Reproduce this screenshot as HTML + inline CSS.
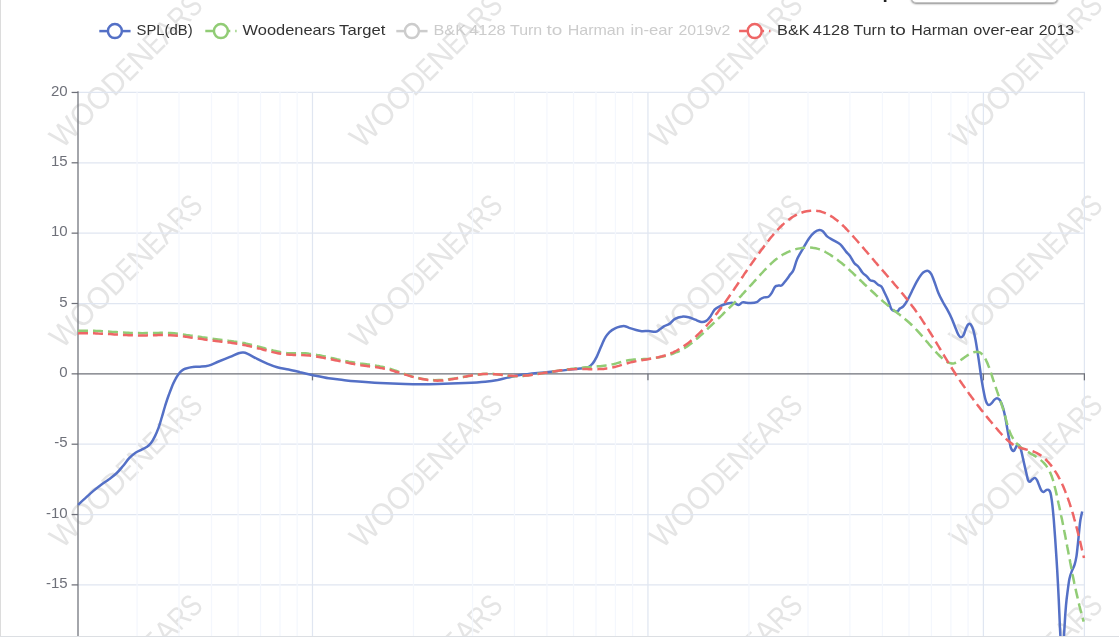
<!DOCTYPE html>
<html lang="en">
<head>
<meta charset="utf-8">
<title>Frequency response</title>
<style>
html,body{margin:0;padding:0;background:#fff}
body{width:1119px;height:642px;overflow:hidden;position:relative;font-family:"Liberation Sans",sans-serif}
.panel{position:absolute;left:0;top:0;width:1119px;height:637px;overflow:hidden;background:#fff}
.bl{position:absolute;left:0;top:0;width:1px;height:637px;background:#dcdcdc}
.bb{position:absolute;left:0;top:635.6px;width:1119px;height:1.3px;background:#dcdfe3}
svg{position:absolute;left:0;top:0;font-family:"Liberation Sans",sans-serif}
.sel{position:absolute;left:911px;top:-24.8px;width:144.5px;height:25.5px;border:1px solid #c4c4c4;border-radius:5px;background:#fff;box-shadow:0 1px 2px rgba(0,0,0,.45)}
.lab{position:absolute;left:840.4px;top:-17.9px;font-size:19px;line-height:20px;color:#222;font-weight:bold;white-space:nowrap}
</style>
</head>
<body>
<div class="panel">
<div class="lab">Comp</div>
<div class="sel"></div>
<svg class="wm" width="1119" height="636" viewBox="0 0 1119 636"><g font-size="31" fill="#e5e5e5">
<text transform="translate(-237.8 -50.5) rotate(-45)"><tspan x="0.0" textLength="28.1" lengthAdjust="spacingAndGlyphs">W</tspan><tspan x="28.1" textLength="22.7" lengthAdjust="spacingAndGlyphs">O</tspan><tspan x="50.8" textLength="22.7" lengthAdjust="spacingAndGlyphs">O</tspan><tspan x="73.5" textLength="21.1" lengthAdjust="spacingAndGlyphs">D</tspan><tspan x="94.6" textLength="15.2" lengthAdjust="spacingAndGlyphs">E</tspan><tspan x="109.8" textLength="22.5" lengthAdjust="spacingAndGlyphs">N</tspan><tspan x="132.3" textLength="15.2" lengthAdjust="spacingAndGlyphs">E</tspan><tspan x="147.6" textLength="19.4" lengthAdjust="spacingAndGlyphs">A</tspan><tspan x="167.0" textLength="18.0" lengthAdjust="spacingAndGlyphs">R</tspan><tspan x="185.0" textLength="16.0" lengthAdjust="spacingAndGlyphs">S</tspan></text>
<text transform="translate(-237.8 149.5) rotate(-45)"><tspan x="0.0" textLength="28.1" lengthAdjust="spacingAndGlyphs">W</tspan><tspan x="28.1" textLength="22.7" lengthAdjust="spacingAndGlyphs">O</tspan><tspan x="50.8" textLength="22.7" lengthAdjust="spacingAndGlyphs">O</tspan><tspan x="73.5" textLength="21.1" lengthAdjust="spacingAndGlyphs">D</tspan><tspan x="94.6" textLength="15.2" lengthAdjust="spacingAndGlyphs">E</tspan><tspan x="109.8" textLength="22.5" lengthAdjust="spacingAndGlyphs">N</tspan><tspan x="132.3" textLength="15.2" lengthAdjust="spacingAndGlyphs">E</tspan><tspan x="147.6" textLength="19.4" lengthAdjust="spacingAndGlyphs">A</tspan><tspan x="167.0" textLength="18.0" lengthAdjust="spacingAndGlyphs">R</tspan><tspan x="185.0" textLength="16.0" lengthAdjust="spacingAndGlyphs">S</tspan></text>
<text transform="translate(-237.8 349.5) rotate(-45)"><tspan x="0.0" textLength="28.1" lengthAdjust="spacingAndGlyphs">W</tspan><tspan x="28.1" textLength="22.7" lengthAdjust="spacingAndGlyphs">O</tspan><tspan x="50.8" textLength="22.7" lengthAdjust="spacingAndGlyphs">O</tspan><tspan x="73.5" textLength="21.1" lengthAdjust="spacingAndGlyphs">D</tspan><tspan x="94.6" textLength="15.2" lengthAdjust="spacingAndGlyphs">E</tspan><tspan x="109.8" textLength="22.5" lengthAdjust="spacingAndGlyphs">N</tspan><tspan x="132.3" textLength="15.2" lengthAdjust="spacingAndGlyphs">E</tspan><tspan x="147.6" textLength="19.4" lengthAdjust="spacingAndGlyphs">A</tspan><tspan x="167.0" textLength="18.0" lengthAdjust="spacingAndGlyphs">R</tspan><tspan x="185.0" textLength="16.0" lengthAdjust="spacingAndGlyphs">S</tspan></text>
<text transform="translate(-237.8 549.5) rotate(-45)"><tspan x="0.0" textLength="28.1" lengthAdjust="spacingAndGlyphs">W</tspan><tspan x="28.1" textLength="22.7" lengthAdjust="spacingAndGlyphs">O</tspan><tspan x="50.8" textLength="22.7" lengthAdjust="spacingAndGlyphs">O</tspan><tspan x="73.5" textLength="21.1" lengthAdjust="spacingAndGlyphs">D</tspan><tspan x="94.6" textLength="15.2" lengthAdjust="spacingAndGlyphs">E</tspan><tspan x="109.8" textLength="22.5" lengthAdjust="spacingAndGlyphs">N</tspan><tspan x="132.3" textLength="15.2" lengthAdjust="spacingAndGlyphs">E</tspan><tspan x="147.6" textLength="19.4" lengthAdjust="spacingAndGlyphs">A</tspan><tspan x="167.0" textLength="18.0" lengthAdjust="spacingAndGlyphs">R</tspan><tspan x="185.0" textLength="16.0" lengthAdjust="spacingAndGlyphs">S</tspan></text>
<text transform="translate(-237.8 749.5) rotate(-45)"><tspan x="0.0" textLength="28.1" lengthAdjust="spacingAndGlyphs">W</tspan><tspan x="28.1" textLength="22.7" lengthAdjust="spacingAndGlyphs">O</tspan><tspan x="50.8" textLength="22.7" lengthAdjust="spacingAndGlyphs">O</tspan><tspan x="73.5" textLength="21.1" lengthAdjust="spacingAndGlyphs">D</tspan><tspan x="94.6" textLength="15.2" lengthAdjust="spacingAndGlyphs">E</tspan><tspan x="109.8" textLength="22.5" lengthAdjust="spacingAndGlyphs">N</tspan><tspan x="132.3" textLength="15.2" lengthAdjust="spacingAndGlyphs">E</tspan><tspan x="147.6" textLength="19.4" lengthAdjust="spacingAndGlyphs">A</tspan><tspan x="167.0" textLength="18.0" lengthAdjust="spacingAndGlyphs">R</tspan><tspan x="185.0" textLength="16.0" lengthAdjust="spacingAndGlyphs">S</tspan></text>
<text transform="translate(62.2 -50.5) rotate(-45)"><tspan x="0.0" textLength="28.1" lengthAdjust="spacingAndGlyphs">W</tspan><tspan x="28.1" textLength="22.7" lengthAdjust="spacingAndGlyphs">O</tspan><tspan x="50.8" textLength="22.7" lengthAdjust="spacingAndGlyphs">O</tspan><tspan x="73.5" textLength="21.1" lengthAdjust="spacingAndGlyphs">D</tspan><tspan x="94.6" textLength="15.2" lengthAdjust="spacingAndGlyphs">E</tspan><tspan x="109.8" textLength="22.5" lengthAdjust="spacingAndGlyphs">N</tspan><tspan x="132.3" textLength="15.2" lengthAdjust="spacingAndGlyphs">E</tspan><tspan x="147.6" textLength="19.4" lengthAdjust="spacingAndGlyphs">A</tspan><tspan x="167.0" textLength="18.0" lengthAdjust="spacingAndGlyphs">R</tspan><tspan x="185.0" textLength="16.0" lengthAdjust="spacingAndGlyphs">S</tspan></text>
<text transform="translate(62.2 149.5) rotate(-45)"><tspan x="0.0" textLength="28.1" lengthAdjust="spacingAndGlyphs">W</tspan><tspan x="28.1" textLength="22.7" lengthAdjust="spacingAndGlyphs">O</tspan><tspan x="50.8" textLength="22.7" lengthAdjust="spacingAndGlyphs">O</tspan><tspan x="73.5" textLength="21.1" lengthAdjust="spacingAndGlyphs">D</tspan><tspan x="94.6" textLength="15.2" lengthAdjust="spacingAndGlyphs">E</tspan><tspan x="109.8" textLength="22.5" lengthAdjust="spacingAndGlyphs">N</tspan><tspan x="132.3" textLength="15.2" lengthAdjust="spacingAndGlyphs">E</tspan><tspan x="147.6" textLength="19.4" lengthAdjust="spacingAndGlyphs">A</tspan><tspan x="167.0" textLength="18.0" lengthAdjust="spacingAndGlyphs">R</tspan><tspan x="185.0" textLength="16.0" lengthAdjust="spacingAndGlyphs">S</tspan></text>
<text transform="translate(62.2 349.5) rotate(-45)"><tspan x="0.0" textLength="28.1" lengthAdjust="spacingAndGlyphs">W</tspan><tspan x="28.1" textLength="22.7" lengthAdjust="spacingAndGlyphs">O</tspan><tspan x="50.8" textLength="22.7" lengthAdjust="spacingAndGlyphs">O</tspan><tspan x="73.5" textLength="21.1" lengthAdjust="spacingAndGlyphs">D</tspan><tspan x="94.6" textLength="15.2" lengthAdjust="spacingAndGlyphs">E</tspan><tspan x="109.8" textLength="22.5" lengthAdjust="spacingAndGlyphs">N</tspan><tspan x="132.3" textLength="15.2" lengthAdjust="spacingAndGlyphs">E</tspan><tspan x="147.6" textLength="19.4" lengthAdjust="spacingAndGlyphs">A</tspan><tspan x="167.0" textLength="18.0" lengthAdjust="spacingAndGlyphs">R</tspan><tspan x="185.0" textLength="16.0" lengthAdjust="spacingAndGlyphs">S</tspan></text>
<text transform="translate(62.2 549.5) rotate(-45)"><tspan x="0.0" textLength="28.1" lengthAdjust="spacingAndGlyphs">W</tspan><tspan x="28.1" textLength="22.7" lengthAdjust="spacingAndGlyphs">O</tspan><tspan x="50.8" textLength="22.7" lengthAdjust="spacingAndGlyphs">O</tspan><tspan x="73.5" textLength="21.1" lengthAdjust="spacingAndGlyphs">D</tspan><tspan x="94.6" textLength="15.2" lengthAdjust="spacingAndGlyphs">E</tspan><tspan x="109.8" textLength="22.5" lengthAdjust="spacingAndGlyphs">N</tspan><tspan x="132.3" textLength="15.2" lengthAdjust="spacingAndGlyphs">E</tspan><tspan x="147.6" textLength="19.4" lengthAdjust="spacingAndGlyphs">A</tspan><tspan x="167.0" textLength="18.0" lengthAdjust="spacingAndGlyphs">R</tspan><tspan x="185.0" textLength="16.0" lengthAdjust="spacingAndGlyphs">S</tspan></text>
<text transform="translate(62.2 749.5) rotate(-45)"><tspan x="0.0" textLength="28.1" lengthAdjust="spacingAndGlyphs">W</tspan><tspan x="28.1" textLength="22.7" lengthAdjust="spacingAndGlyphs">O</tspan><tspan x="50.8" textLength="22.7" lengthAdjust="spacingAndGlyphs">O</tspan><tspan x="73.5" textLength="21.1" lengthAdjust="spacingAndGlyphs">D</tspan><tspan x="94.6" textLength="15.2" lengthAdjust="spacingAndGlyphs">E</tspan><tspan x="109.8" textLength="22.5" lengthAdjust="spacingAndGlyphs">N</tspan><tspan x="132.3" textLength="15.2" lengthAdjust="spacingAndGlyphs">E</tspan><tspan x="147.6" textLength="19.4" lengthAdjust="spacingAndGlyphs">A</tspan><tspan x="167.0" textLength="18.0" lengthAdjust="spacingAndGlyphs">R</tspan><tspan x="185.0" textLength="16.0" lengthAdjust="spacingAndGlyphs">S</tspan></text>
<text transform="translate(362.2 -50.5) rotate(-45)"><tspan x="0.0" textLength="28.1" lengthAdjust="spacingAndGlyphs">W</tspan><tspan x="28.1" textLength="22.7" lengthAdjust="spacingAndGlyphs">O</tspan><tspan x="50.8" textLength="22.7" lengthAdjust="spacingAndGlyphs">O</tspan><tspan x="73.5" textLength="21.1" lengthAdjust="spacingAndGlyphs">D</tspan><tspan x="94.6" textLength="15.2" lengthAdjust="spacingAndGlyphs">E</tspan><tspan x="109.8" textLength="22.5" lengthAdjust="spacingAndGlyphs">N</tspan><tspan x="132.3" textLength="15.2" lengthAdjust="spacingAndGlyphs">E</tspan><tspan x="147.6" textLength="19.4" lengthAdjust="spacingAndGlyphs">A</tspan><tspan x="167.0" textLength="18.0" lengthAdjust="spacingAndGlyphs">R</tspan><tspan x="185.0" textLength="16.0" lengthAdjust="spacingAndGlyphs">S</tspan></text>
<text transform="translate(362.2 149.5) rotate(-45)"><tspan x="0.0" textLength="28.1" lengthAdjust="spacingAndGlyphs">W</tspan><tspan x="28.1" textLength="22.7" lengthAdjust="spacingAndGlyphs">O</tspan><tspan x="50.8" textLength="22.7" lengthAdjust="spacingAndGlyphs">O</tspan><tspan x="73.5" textLength="21.1" lengthAdjust="spacingAndGlyphs">D</tspan><tspan x="94.6" textLength="15.2" lengthAdjust="spacingAndGlyphs">E</tspan><tspan x="109.8" textLength="22.5" lengthAdjust="spacingAndGlyphs">N</tspan><tspan x="132.3" textLength="15.2" lengthAdjust="spacingAndGlyphs">E</tspan><tspan x="147.6" textLength="19.4" lengthAdjust="spacingAndGlyphs">A</tspan><tspan x="167.0" textLength="18.0" lengthAdjust="spacingAndGlyphs">R</tspan><tspan x="185.0" textLength="16.0" lengthAdjust="spacingAndGlyphs">S</tspan></text>
<text transform="translate(362.2 349.5) rotate(-45)"><tspan x="0.0" textLength="28.1" lengthAdjust="spacingAndGlyphs">W</tspan><tspan x="28.1" textLength="22.7" lengthAdjust="spacingAndGlyphs">O</tspan><tspan x="50.8" textLength="22.7" lengthAdjust="spacingAndGlyphs">O</tspan><tspan x="73.5" textLength="21.1" lengthAdjust="spacingAndGlyphs">D</tspan><tspan x="94.6" textLength="15.2" lengthAdjust="spacingAndGlyphs">E</tspan><tspan x="109.8" textLength="22.5" lengthAdjust="spacingAndGlyphs">N</tspan><tspan x="132.3" textLength="15.2" lengthAdjust="spacingAndGlyphs">E</tspan><tspan x="147.6" textLength="19.4" lengthAdjust="spacingAndGlyphs">A</tspan><tspan x="167.0" textLength="18.0" lengthAdjust="spacingAndGlyphs">R</tspan><tspan x="185.0" textLength="16.0" lengthAdjust="spacingAndGlyphs">S</tspan></text>
<text transform="translate(362.2 549.5) rotate(-45)"><tspan x="0.0" textLength="28.1" lengthAdjust="spacingAndGlyphs">W</tspan><tspan x="28.1" textLength="22.7" lengthAdjust="spacingAndGlyphs">O</tspan><tspan x="50.8" textLength="22.7" lengthAdjust="spacingAndGlyphs">O</tspan><tspan x="73.5" textLength="21.1" lengthAdjust="spacingAndGlyphs">D</tspan><tspan x="94.6" textLength="15.2" lengthAdjust="spacingAndGlyphs">E</tspan><tspan x="109.8" textLength="22.5" lengthAdjust="spacingAndGlyphs">N</tspan><tspan x="132.3" textLength="15.2" lengthAdjust="spacingAndGlyphs">E</tspan><tspan x="147.6" textLength="19.4" lengthAdjust="spacingAndGlyphs">A</tspan><tspan x="167.0" textLength="18.0" lengthAdjust="spacingAndGlyphs">R</tspan><tspan x="185.0" textLength="16.0" lengthAdjust="spacingAndGlyphs">S</tspan></text>
<text transform="translate(362.2 749.5) rotate(-45)"><tspan x="0.0" textLength="28.1" lengthAdjust="spacingAndGlyphs">W</tspan><tspan x="28.1" textLength="22.7" lengthAdjust="spacingAndGlyphs">O</tspan><tspan x="50.8" textLength="22.7" lengthAdjust="spacingAndGlyphs">O</tspan><tspan x="73.5" textLength="21.1" lengthAdjust="spacingAndGlyphs">D</tspan><tspan x="94.6" textLength="15.2" lengthAdjust="spacingAndGlyphs">E</tspan><tspan x="109.8" textLength="22.5" lengthAdjust="spacingAndGlyphs">N</tspan><tspan x="132.3" textLength="15.2" lengthAdjust="spacingAndGlyphs">E</tspan><tspan x="147.6" textLength="19.4" lengthAdjust="spacingAndGlyphs">A</tspan><tspan x="167.0" textLength="18.0" lengthAdjust="spacingAndGlyphs">R</tspan><tspan x="185.0" textLength="16.0" lengthAdjust="spacingAndGlyphs">S</tspan></text>
<text transform="translate(662.2 -50.5) rotate(-45)"><tspan x="0.0" textLength="28.1" lengthAdjust="spacingAndGlyphs">W</tspan><tspan x="28.1" textLength="22.7" lengthAdjust="spacingAndGlyphs">O</tspan><tspan x="50.8" textLength="22.7" lengthAdjust="spacingAndGlyphs">O</tspan><tspan x="73.5" textLength="21.1" lengthAdjust="spacingAndGlyphs">D</tspan><tspan x="94.6" textLength="15.2" lengthAdjust="spacingAndGlyphs">E</tspan><tspan x="109.8" textLength="22.5" lengthAdjust="spacingAndGlyphs">N</tspan><tspan x="132.3" textLength="15.2" lengthAdjust="spacingAndGlyphs">E</tspan><tspan x="147.6" textLength="19.4" lengthAdjust="spacingAndGlyphs">A</tspan><tspan x="167.0" textLength="18.0" lengthAdjust="spacingAndGlyphs">R</tspan><tspan x="185.0" textLength="16.0" lengthAdjust="spacingAndGlyphs">S</tspan></text>
<text transform="translate(662.2 149.5) rotate(-45)"><tspan x="0.0" textLength="28.1" lengthAdjust="spacingAndGlyphs">W</tspan><tspan x="28.1" textLength="22.7" lengthAdjust="spacingAndGlyphs">O</tspan><tspan x="50.8" textLength="22.7" lengthAdjust="spacingAndGlyphs">O</tspan><tspan x="73.5" textLength="21.1" lengthAdjust="spacingAndGlyphs">D</tspan><tspan x="94.6" textLength="15.2" lengthAdjust="spacingAndGlyphs">E</tspan><tspan x="109.8" textLength="22.5" lengthAdjust="spacingAndGlyphs">N</tspan><tspan x="132.3" textLength="15.2" lengthAdjust="spacingAndGlyphs">E</tspan><tspan x="147.6" textLength="19.4" lengthAdjust="spacingAndGlyphs">A</tspan><tspan x="167.0" textLength="18.0" lengthAdjust="spacingAndGlyphs">R</tspan><tspan x="185.0" textLength="16.0" lengthAdjust="spacingAndGlyphs">S</tspan></text>
<text transform="translate(662.2 349.5) rotate(-45)"><tspan x="0.0" textLength="28.1" lengthAdjust="spacingAndGlyphs">W</tspan><tspan x="28.1" textLength="22.7" lengthAdjust="spacingAndGlyphs">O</tspan><tspan x="50.8" textLength="22.7" lengthAdjust="spacingAndGlyphs">O</tspan><tspan x="73.5" textLength="21.1" lengthAdjust="spacingAndGlyphs">D</tspan><tspan x="94.6" textLength="15.2" lengthAdjust="spacingAndGlyphs">E</tspan><tspan x="109.8" textLength="22.5" lengthAdjust="spacingAndGlyphs">N</tspan><tspan x="132.3" textLength="15.2" lengthAdjust="spacingAndGlyphs">E</tspan><tspan x="147.6" textLength="19.4" lengthAdjust="spacingAndGlyphs">A</tspan><tspan x="167.0" textLength="18.0" lengthAdjust="spacingAndGlyphs">R</tspan><tspan x="185.0" textLength="16.0" lengthAdjust="spacingAndGlyphs">S</tspan></text>
<text transform="translate(662.2 549.5) rotate(-45)"><tspan x="0.0" textLength="28.1" lengthAdjust="spacingAndGlyphs">W</tspan><tspan x="28.1" textLength="22.7" lengthAdjust="spacingAndGlyphs">O</tspan><tspan x="50.8" textLength="22.7" lengthAdjust="spacingAndGlyphs">O</tspan><tspan x="73.5" textLength="21.1" lengthAdjust="spacingAndGlyphs">D</tspan><tspan x="94.6" textLength="15.2" lengthAdjust="spacingAndGlyphs">E</tspan><tspan x="109.8" textLength="22.5" lengthAdjust="spacingAndGlyphs">N</tspan><tspan x="132.3" textLength="15.2" lengthAdjust="spacingAndGlyphs">E</tspan><tspan x="147.6" textLength="19.4" lengthAdjust="spacingAndGlyphs">A</tspan><tspan x="167.0" textLength="18.0" lengthAdjust="spacingAndGlyphs">R</tspan><tspan x="185.0" textLength="16.0" lengthAdjust="spacingAndGlyphs">S</tspan></text>
<text transform="translate(662.2 749.5) rotate(-45)"><tspan x="0.0" textLength="28.1" lengthAdjust="spacingAndGlyphs">W</tspan><tspan x="28.1" textLength="22.7" lengthAdjust="spacingAndGlyphs">O</tspan><tspan x="50.8" textLength="22.7" lengthAdjust="spacingAndGlyphs">O</tspan><tspan x="73.5" textLength="21.1" lengthAdjust="spacingAndGlyphs">D</tspan><tspan x="94.6" textLength="15.2" lengthAdjust="spacingAndGlyphs">E</tspan><tspan x="109.8" textLength="22.5" lengthAdjust="spacingAndGlyphs">N</tspan><tspan x="132.3" textLength="15.2" lengthAdjust="spacingAndGlyphs">E</tspan><tspan x="147.6" textLength="19.4" lengthAdjust="spacingAndGlyphs">A</tspan><tspan x="167.0" textLength="18.0" lengthAdjust="spacingAndGlyphs">R</tspan><tspan x="185.0" textLength="16.0" lengthAdjust="spacingAndGlyphs">S</tspan></text>
<text transform="translate(962.2 -50.5) rotate(-45)"><tspan x="0.0" textLength="28.1" lengthAdjust="spacingAndGlyphs">W</tspan><tspan x="28.1" textLength="22.7" lengthAdjust="spacingAndGlyphs">O</tspan><tspan x="50.8" textLength="22.7" lengthAdjust="spacingAndGlyphs">O</tspan><tspan x="73.5" textLength="21.1" lengthAdjust="spacingAndGlyphs">D</tspan><tspan x="94.6" textLength="15.2" lengthAdjust="spacingAndGlyphs">E</tspan><tspan x="109.8" textLength="22.5" lengthAdjust="spacingAndGlyphs">N</tspan><tspan x="132.3" textLength="15.2" lengthAdjust="spacingAndGlyphs">E</tspan><tspan x="147.6" textLength="19.4" lengthAdjust="spacingAndGlyphs">A</tspan><tspan x="167.0" textLength="18.0" lengthAdjust="spacingAndGlyphs">R</tspan><tspan x="185.0" textLength="16.0" lengthAdjust="spacingAndGlyphs">S</tspan></text>
<text transform="translate(962.2 149.5) rotate(-45)"><tspan x="0.0" textLength="28.1" lengthAdjust="spacingAndGlyphs">W</tspan><tspan x="28.1" textLength="22.7" lengthAdjust="spacingAndGlyphs">O</tspan><tspan x="50.8" textLength="22.7" lengthAdjust="spacingAndGlyphs">O</tspan><tspan x="73.5" textLength="21.1" lengthAdjust="spacingAndGlyphs">D</tspan><tspan x="94.6" textLength="15.2" lengthAdjust="spacingAndGlyphs">E</tspan><tspan x="109.8" textLength="22.5" lengthAdjust="spacingAndGlyphs">N</tspan><tspan x="132.3" textLength="15.2" lengthAdjust="spacingAndGlyphs">E</tspan><tspan x="147.6" textLength="19.4" lengthAdjust="spacingAndGlyphs">A</tspan><tspan x="167.0" textLength="18.0" lengthAdjust="spacingAndGlyphs">R</tspan><tspan x="185.0" textLength="16.0" lengthAdjust="spacingAndGlyphs">S</tspan></text>
<text transform="translate(962.2 349.5) rotate(-45)"><tspan x="0.0" textLength="28.1" lengthAdjust="spacingAndGlyphs">W</tspan><tspan x="28.1" textLength="22.7" lengthAdjust="spacingAndGlyphs">O</tspan><tspan x="50.8" textLength="22.7" lengthAdjust="spacingAndGlyphs">O</tspan><tspan x="73.5" textLength="21.1" lengthAdjust="spacingAndGlyphs">D</tspan><tspan x="94.6" textLength="15.2" lengthAdjust="spacingAndGlyphs">E</tspan><tspan x="109.8" textLength="22.5" lengthAdjust="spacingAndGlyphs">N</tspan><tspan x="132.3" textLength="15.2" lengthAdjust="spacingAndGlyphs">E</tspan><tspan x="147.6" textLength="19.4" lengthAdjust="spacingAndGlyphs">A</tspan><tspan x="167.0" textLength="18.0" lengthAdjust="spacingAndGlyphs">R</tspan><tspan x="185.0" textLength="16.0" lengthAdjust="spacingAndGlyphs">S</tspan></text>
<text transform="translate(962.2 549.5) rotate(-45)"><tspan x="0.0" textLength="28.1" lengthAdjust="spacingAndGlyphs">W</tspan><tspan x="28.1" textLength="22.7" lengthAdjust="spacingAndGlyphs">O</tspan><tspan x="50.8" textLength="22.7" lengthAdjust="spacingAndGlyphs">O</tspan><tspan x="73.5" textLength="21.1" lengthAdjust="spacingAndGlyphs">D</tspan><tspan x="94.6" textLength="15.2" lengthAdjust="spacingAndGlyphs">E</tspan><tspan x="109.8" textLength="22.5" lengthAdjust="spacingAndGlyphs">N</tspan><tspan x="132.3" textLength="15.2" lengthAdjust="spacingAndGlyphs">E</tspan><tspan x="147.6" textLength="19.4" lengthAdjust="spacingAndGlyphs">A</tspan><tspan x="167.0" textLength="18.0" lengthAdjust="spacingAndGlyphs">R</tspan><tspan x="185.0" textLength="16.0" lengthAdjust="spacingAndGlyphs">S</tspan></text>
<text transform="translate(962.2 749.5) rotate(-45)"><tspan x="0.0" textLength="28.1" lengthAdjust="spacingAndGlyphs">W</tspan><tspan x="28.1" textLength="22.7" lengthAdjust="spacingAndGlyphs">O</tspan><tspan x="50.8" textLength="22.7" lengthAdjust="spacingAndGlyphs">O</tspan><tspan x="73.5" textLength="21.1" lengthAdjust="spacingAndGlyphs">D</tspan><tspan x="94.6" textLength="15.2" lengthAdjust="spacingAndGlyphs">E</tspan><tspan x="109.8" textLength="22.5" lengthAdjust="spacingAndGlyphs">N</tspan><tspan x="132.3" textLength="15.2" lengthAdjust="spacingAndGlyphs">E</tspan><tspan x="147.6" textLength="19.4" lengthAdjust="spacingAndGlyphs">A</tspan><tspan x="167.0" textLength="18.0" lengthAdjust="spacingAndGlyphs">R</tspan><tspan x="185.0" textLength="16.0" lengthAdjust="spacingAndGlyphs">S</tspan></text>
</g></svg>
<svg class="chart" width="1119" height="636" viewBox="0 0 1119 636">
<g stroke="#e0e6f1" stroke-width="1.25" fill="none">
<path d="M312.48 92V636"/>
<path d="M647.95 92V636"/>
<path d="M983.41 92V636"/>
<path d="M1084.40 92V636"/>
<path d="M78 92.45H1085"/>
<path d="M78 162.80H1085"/>
<path d="M78 233.15H1085"/>
<path d="M78 303.50H1085"/>
<path d="M78 444.20H1085"/>
<path d="M78 514.55H1085"/>
<path d="M78 584.90H1085"/>
</g>
<g stroke="#f4f7fd" stroke-width="1.25" fill="none">
<path d="M137.07 92V636"/>
<path d="M178.99 92V636"/>
<path d="M211.50 92V636"/>
<path d="M238.06 92V636"/>
<path d="M260.52 92V636"/>
<path d="M279.97 92V636"/>
<path d="M297.13 92V636"/>
<path d="M413.47 92V636"/>
<path d="M472.54 92V636"/>
<path d="M514.45 92V636"/>
<path d="M546.96 92V636"/>
<path d="M573.52 92V636"/>
<path d="M595.98 92V636"/>
<path d="M615.44 92V636"/>
<path d="M632.60 92V636"/>
<path d="M748.93 92V636"/>
<path d="M808.01 92V636"/>
<path d="M849.92 92V636"/>
<path d="M882.43 92V636"/>
<path d="M908.99 92V636"/>
<path d="M931.45 92V636"/>
<path d="M950.90 92V636"/>
<path d="M968.06 92V636"/>
</g>
<g stroke="#6e7079" stroke-width="1.25" fill="none">
<path d="M78 91.2V636"/>
<path d="M77.5 373.85H1085"/>
<path d="M71.6 92.45H78"/>
<path d="M71.6 162.80H78"/>
<path d="M71.6 233.15H78"/>
<path d="M71.6 303.50H78"/>
<path d="M71.6 373.85H78"/>
<path d="M71.6 444.20H78"/>
<path d="M71.6 514.55H78"/>
<path d="M71.6 584.90H78"/>
<path d="M312.48 373.85v6.5"/>
<path d="M647.95 373.85v6.5"/>
<path d="M983.41 373.85v6.5"/>
<path d="M1084.40 373.85v6.5"/>
</g>
<g class="yl" fill="#6e7079" font-size="15" text-anchor="end">
<text x="67.6" y="95.6">20</text>
<text x="67.6" y="165.9">15</text>
<text x="67.6" y="236.3">10</text>
<text x="67.6" y="306.6">5</text>
<text x="67.6" y="377.0">0</text>
<text x="67.6" y="447.3">-5</text>
<text x="67.6" y="517.6">-10</text>
<text x="67.6" y="588.0">-15</text>
</g>
<g fill="none" stroke-width="2.5" stroke-linejoin="bevel">
<path stroke="#5470c6" d="M78.1 504.9C79.3 503.7 83.0 500.2 85.6 497.9C88.1 495.6 90.8 493.1 93.4 490.9C96.0 488.7 98.6 486.6 101.2 484.7C103.8 482.8 106.4 481.1 109.0 479.2C111.6 477.2 114.5 475.2 116.8 473.0C119.1 470.8 120.9 468.5 123.0 466.0C125.1 463.5 127.1 460.4 129.2 458.2C131.3 456.0 133.4 454.1 135.5 452.7C137.6 451.3 139.8 450.6 141.7 449.6C143.6 448.6 145.5 447.9 147.1 446.8C148.7 445.7 149.7 444.8 151.0 443.1C152.3 441.4 153.6 439.0 154.9 436.4C156.2 433.8 157.4 430.8 158.6 427.6C159.8 424.4 160.8 420.6 161.9 417.0C163.0 413.4 164.0 409.5 165.1 406.0C166.2 402.5 167.2 399.3 168.5 395.8C169.8 392.3 171.4 387.9 172.6 385.0C173.8 382.1 174.8 380.4 175.8 378.5C176.9 376.6 177.9 375.1 178.9 373.8C179.9 372.5 181.0 371.4 182.0 370.6C183.0 369.8 183.3 369.4 185.1 368.8C186.9 368.2 190.1 367.2 192.6 366.9C195.1 366.5 197.3 366.9 200.0 366.7C202.7 366.5 205.5 366.5 208.6 365.6C211.7 364.7 215.0 362.9 218.6 361.5C222.2 360.1 226.7 358.3 230.0 356.9C233.3 355.5 236.4 353.9 238.6 353.2C240.8 352.5 241.5 352.4 242.9 352.5C244.3 352.6 244.8 352.5 247.2 353.6C249.6 354.7 253.9 357.2 257.2 358.9C260.5 360.6 263.9 362.2 267.2 363.6C270.5 365.0 273.6 366.2 277.2 367.2C280.8 368.2 284.8 368.7 288.6 369.5C292.4 370.3 296.0 371.2 300.1 372.2C304.2 373.1 308.2 374.2 313.0 375.2C317.8 376.2 323.7 377.5 328.7 378.3C333.7 379.1 338.6 379.5 343.0 380.0C347.4 380.5 348.8 380.8 355.0 381.3C361.2 381.8 371.6 382.6 380.0 383.1C388.4 383.6 395.5 383.9 405.1 384.1C414.7 384.3 427.6 384.3 437.6 384.1C447.6 383.9 457.2 383.5 465.1 383.1C473.0 382.7 479.8 382.3 485.2 381.8C490.6 381.3 493.9 380.8 497.7 380.1C501.4 379.4 503.9 378.4 507.7 377.6C511.4 376.8 515.2 375.9 520.2 375.1C525.2 374.4 531.9 373.7 537.7 373.1C543.5 372.5 549.8 371.9 555.2 371.3C560.6 370.7 566.1 370.0 570.2 369.5C574.3 369.0 577.0 368.9 580.0 368.5C583.0 368.1 586.3 367.9 588.4 367.1C590.5 366.3 591.2 365.4 592.6 363.6C594.0 361.9 595.4 359.4 596.8 356.6C598.2 353.8 599.6 350.0 601.0 346.8C602.4 343.6 603.8 340.1 605.2 337.7C606.6 335.2 607.9 333.7 609.5 332.1C611.1 330.5 613.2 329.2 615.1 328.3C617.0 327.4 619.1 326.9 620.7 326.5C622.3 326.1 623.5 326.0 624.9 326.2C626.3 326.4 627.2 327.3 629.1 327.9C631.0 328.5 634.0 329.4 636.1 330.0C638.2 330.6 639.6 331.0 641.7 331.2C643.8 331.4 646.4 330.9 648.7 331.0C651.0 331.1 653.8 332.1 655.7 331.8C657.6 331.5 658.5 330.2 659.9 329.3C661.3 328.4 662.6 327.1 664.2 326.2C665.9 325.2 668.0 324.8 669.8 323.6C671.6 322.4 673.0 320.0 675.0 318.9C677.0 317.8 679.5 317.0 681.8 316.7C684.0 316.4 686.3 316.7 688.5 317.2C690.7 317.7 693.1 318.9 695.2 319.7C697.3 320.5 699.3 321.7 701.1 321.9C702.9 322.1 704.7 321.8 706.2 320.9C707.8 320.0 709.0 318.3 710.4 316.4C711.8 314.5 713.2 311.2 714.6 309.6C716.0 308.0 717.1 307.7 718.8 306.8C720.5 305.9 722.7 305.0 724.7 304.3C726.7 303.6 728.9 303.1 730.6 302.9C732.3 302.7 733.4 303.0 734.8 303.3C736.1 303.6 737.4 305.0 738.7 304.9C740.0 304.8 741.1 302.8 742.4 302.4C743.7 302.0 745.2 302.6 746.6 302.7C748.0 302.8 749.1 303.2 750.8 303.1C752.5 303.0 755.0 302.8 756.7 302.1C758.4 301.4 759.6 299.5 760.9 298.7C762.1 297.9 762.9 297.7 764.2 297.4C765.5 297.1 767.2 297.5 768.5 296.7C769.8 295.9 770.7 294.5 771.8 292.8C772.9 291.1 774.1 287.8 775.2 286.6C776.3 285.4 777.4 285.8 778.5 285.6C779.6 285.4 780.6 286.1 781.9 285.2C783.2 284.3 784.8 281.9 786.1 280.2C787.5 278.5 788.8 276.5 790.0 274.8C791.2 273.1 792.3 272.7 793.5 270.0C794.7 267.3 795.7 262.4 797.3 258.8C798.9 255.2 801.1 252.0 803.0 248.7C804.9 245.3 806.9 241.4 808.8 238.7C810.7 236.0 812.7 233.7 814.5 232.3C816.3 230.9 818.1 230.2 819.5 230.1C820.9 230.0 821.8 230.4 823.1 231.5C824.4 232.6 825.7 235.2 827.4 236.6C829.1 238.0 831.0 238.8 833.1 240.1C835.2 241.4 838.1 242.5 840.3 244.4C842.4 246.3 844.4 249.7 846.0 251.6C847.6 253.5 848.6 254.0 850.0 255.9C851.4 257.8 852.8 261.2 854.2 263.0C855.6 264.8 857.0 265.1 858.4 266.7C859.8 268.3 861.2 271.2 862.6 272.8C864.0 274.4 865.5 275.1 866.8 276.3C868.1 277.5 869.1 279.4 870.3 280.2C871.5 281.0 872.5 280.4 873.8 281.2C875.1 281.9 876.8 283.8 878.1 284.7C879.4 285.6 880.4 285.3 881.6 286.8C882.8 288.3 883.9 291.4 885.1 293.8C886.3 296.2 887.6 298.9 888.6 301.5C889.6 304.1 890.4 307.6 891.4 309.2C892.4 310.8 893.8 310.8 894.9 311.1C896.0 311.5 896.9 311.7 897.7 311.3C898.5 310.9 898.9 309.3 899.8 308.5C900.7 307.7 902.0 307.8 903.3 306.4C904.6 305.0 906.1 302.6 907.5 300.1C908.9 297.7 910.2 294.7 911.7 291.7C913.2 288.7 915.0 284.8 916.6 281.9C918.2 279.0 920.1 275.9 921.5 274.2C922.9 272.4 923.8 271.9 925.0 271.4C926.2 270.9 927.5 270.6 928.5 271.1C929.5 271.6 930.3 272.5 931.3 274.2C932.2 275.9 933.0 278.0 934.2 281.2C935.4 284.4 937.0 289.7 938.4 293.1C939.8 296.5 941.2 298.9 942.6 301.5C944.0 304.1 945.1 305.6 946.6 308.4C948.1 311.2 950.1 314.8 951.6 318.2C953.1 321.6 954.6 326.0 955.8 328.8C957.0 331.6 957.7 333.7 958.6 335.1C959.5 336.5 960.2 337.2 961.0 337.2C961.8 337.2 962.7 336.4 963.5 335.1C964.3 333.8 964.9 331.2 965.6 329.5C966.3 327.8 967.1 325.9 967.7 325.0C968.3 324.1 968.8 323.8 969.4 323.8C970.0 323.8 970.6 324.1 971.2 325.2C971.9 326.3 972.6 327.8 973.3 330.2C974.0 332.6 974.7 335.7 975.4 339.3C976.1 342.9 976.8 347.5 977.5 351.9C978.2 356.3 979.0 361.5 979.6 365.9C980.2 370.3 980.8 374.6 981.4 378.5C982.0 382.4 982.6 385.7 983.2 389.0C983.8 392.3 984.5 395.8 985.1 398.2C985.7 400.6 986.2 402.0 986.8 403.1C987.4 404.2 988.1 405.0 988.9 405.0C989.7 405.0 990.8 404.0 991.7 403.1C992.6 402.2 993.6 400.4 994.5 399.6C995.4 398.8 996.1 398.2 996.9 398.2C997.7 398.2 998.7 398.7 999.5 399.6C1000.3 400.5 1000.9 402.0 1001.6 403.8C1002.3 405.6 1003.0 407.5 1003.7 410.2C1004.4 412.9 1005.1 416.6 1005.8 420.0C1006.4 423.4 1007.0 427.1 1007.6 430.5C1008.2 433.9 1008.8 437.5 1009.3 440.3C1009.8 443.1 1010.2 445.7 1010.7 447.3C1011.2 448.9 1011.6 449.5 1012.1 450.1C1012.6 450.7 1013.3 451.0 1013.8 450.8C1014.3 450.6 1014.7 449.6 1015.2 448.7C1015.7 447.8 1016.5 446.0 1017.0 445.4C1017.5 444.8 1017.9 444.5 1018.4 444.8C1018.9 445.1 1019.6 445.8 1020.2 447.2C1020.8 448.6 1021.3 450.9 1021.9 453.5C1022.5 456.1 1023.3 459.9 1024.0 463.0C1024.7 466.1 1025.4 469.2 1026.1 472.0C1026.8 474.8 1027.4 478.4 1028.0 480.0C1028.6 481.6 1029.2 481.8 1029.9 481.7C1030.6 481.6 1031.6 479.9 1032.4 479.3C1033.2 478.7 1034.2 477.7 1035.0 477.9C1035.8 478.1 1036.5 479.3 1037.3 480.7C1038.0 482.1 1038.8 484.6 1039.5 486.3C1040.2 488.0 1040.9 489.9 1041.6 490.8C1042.3 491.7 1042.9 492.0 1043.7 491.9C1044.5 491.8 1045.4 490.5 1046.2 490.1C1047.0 489.8 1047.9 489.4 1048.6 489.8C1049.3 490.2 1049.9 490.9 1050.4 492.6C1050.9 494.4 1051.4 497.4 1051.8 500.3C1052.2 503.2 1052.6 506.8 1052.9 510.1C1053.2 513.4 1053.4 515.2 1053.8 520.0C1054.2 524.8 1054.7 532.0 1055.2 539.0C1055.7 546.0 1056.2 554.2 1056.7 561.8C1057.2 569.4 1057.6 577.3 1058.0 584.6C1058.4 591.9 1058.7 598.5 1059.0 605.4C1059.3 612.3 1059.7 621.2 1059.9 626.3C1060.1 631.4 1060.2 631.5 1060.4 635.8C1060.6 640.1 1060.9 648.0 1061.2 652.0C1061.5 656.0 1061.9 660.0 1062.2 660.0C1062.5 660.0 1062.9 656.0 1063.2 652.0C1063.5 648.0 1063.7 641.0 1064.0 635.8C1064.3 630.6 1064.6 625.7 1064.9 620.6C1065.2 615.5 1065.6 610.1 1066.0 605.4C1066.4 600.6 1066.9 596.5 1067.5 592.1C1068.1 587.7 1068.7 582.4 1069.4 578.9C1070.1 575.4 1071.0 573.3 1071.9 570.9C1072.8 568.5 1073.8 567.1 1074.6 564.6C1075.4 562.1 1075.9 559.7 1076.5 556.1C1077.1 552.5 1077.5 547.2 1078.0 542.8C1078.5 538.4 1078.9 533.3 1079.3 529.5C1079.7 525.7 1079.9 523.0 1080.4 520.0C1080.9 517.0 1081.9 512.9 1082.2 511.5"/>
<path stroke="#91cc75" stroke-dasharray="10 5" d="M78.0 330.9C78.7 330.9 80.6 330.8 81.9 330.8C83.2 330.7 84.6 330.7 86.0 330.7C87.3 330.7 88.7 330.7 90.0 330.7C91.4 330.8 92.7 330.8 94.1 330.8C95.4 330.9 96.8 330.9 98.1 331.0C99.5 331.1 100.8 331.1 102.2 331.2C103.5 331.3 104.9 331.3 106.2 331.4C107.5 331.5 108.9 331.6 110.2 331.7C111.6 331.8 112.9 331.9 114.3 331.9C115.6 332.0 117.0 332.1 118.3 332.2C119.6 332.3 121.0 332.4 122.3 332.5C123.7 332.5 125.0 332.6 126.3 332.7C127.7 332.8 129.0 332.8 130.4 332.9C131.7 333.0 133.0 333.0 134.4 333.0C135.7 333.1 137.0 333.1 138.4 333.1C139.7 333.2 141.1 333.2 142.4 333.2C143.7 333.2 145.1 333.2 146.4 333.1C147.7 333.1 149.1 333.1 150.4 333.1C151.7 333.0 153.1 333.0 154.4 333.0C155.7 332.9 157.1 332.9 158.4 332.9C159.7 332.9 161.1 332.8 162.4 332.8C163.7 332.8 165.1 332.9 166.4 332.9C167.7 332.9 169.0 333.0 170.4 333.0C171.7 333.1 173.0 333.2 174.4 333.3C175.7 333.4 177.0 333.6 178.3 333.8C179.7 333.9 181.0 334.1 182.3 334.3C183.7 334.5 185.0 334.7 186.3 334.9C187.6 335.0 189.0 335.2 190.3 335.4C191.6 335.6 192.9 335.8 194.3 336.0C195.6 336.2 196.9 336.4 198.2 336.6C199.6 336.8 200.9 337.0 202.2 337.2C203.5 337.4 204.9 337.6 206.2 337.8C207.5 338.0 208.8 338.2 210.2 338.4C211.5 338.6 212.8 338.7 214.1 338.9C215.4 339.1 216.8 339.3 218.1 339.4C219.4 339.6 220.7 339.8 222.1 339.9C223.4 340.1 224.7 340.2 226.0 340.4C227.3 340.6 228.7 340.7 230.0 340.9C231.3 341.1 232.6 341.3 233.9 341.5C235.3 341.6 236.6 341.8 237.9 342.1C239.2 342.3 240.6 342.5 241.9 342.7C243.2 343.0 244.5 343.2 245.8 343.5C247.2 343.8 248.5 344.1 249.8 344.4C251.1 344.7 252.4 345.0 253.8 345.4C255.1 345.7 256.4 346.1 257.7 346.4C259.0 346.8 260.4 347.2 261.7 347.5C263.0 347.9 264.3 348.2 265.6 348.6C267.0 349.0 268.3 349.3 269.6 349.6C270.9 350.0 272.2 350.3 273.6 350.6C274.9 350.9 276.2 351.2 277.5 351.5C278.8 351.8 280.2 352.0 281.5 352.2C282.8 352.5 284.1 352.6 285.4 352.8C286.8 353.0 288.1 353.1 289.4 353.2C290.7 353.2 292.0 353.3 293.4 353.3C294.7 353.3 296.0 353.3 297.3 353.3C298.7 353.3 300.0 353.3 301.3 353.3C302.6 353.3 303.9 353.3 305.3 353.3C306.6 353.4 307.9 353.5 309.2 353.7C310.5 353.8 311.9 354.0 313.2 354.2C314.5 354.4 315.8 354.6 317.1 354.9C318.5 355.1 319.8 355.4 321.1 355.6C322.4 355.9 323.7 356.2 325.1 356.5C326.4 356.8 327.7 357.1 329.0 357.4C330.3 357.7 331.7 358.0 333.0 358.3C334.3 358.6 335.6 358.9 336.9 359.2C338.2 359.5 339.6 359.8 340.9 360.1C342.2 360.4 343.5 360.6 344.8 360.9C346.1 361.2 347.4 361.4 348.8 361.7C350.1 361.9 351.4 362.1 352.7 362.3C354.0 362.5 355.3 362.7 356.6 362.9C357.9 363.1 359.3 363.3 360.6 363.5C361.9 363.6 363.2 363.8 364.5 364.0C365.8 364.2 367.1 364.3 368.4 364.5C369.7 364.7 371.0 364.9 372.3 365.1C373.6 365.3 375.0 365.5 376.3 365.7C377.6 366.0 378.9 366.2 380.2 366.5C381.5 366.7 382.8 367.0 384.1 367.3C385.4 367.6 386.7 367.9 388.0 368.3C389.3 368.6 390.6 369.0 391.9 369.4C393.1 369.8 394.4 370.3 395.7 370.7C397.0 371.2 398.3 371.6 399.6 372.1C400.9 372.6 402.2 373.1 403.5 373.5C404.8 374.0 406.1 374.4 407.4 374.9C408.7 375.3 410.0 375.8 411.3 376.2C412.6 376.6 413.9 376.9 415.1 377.3C416.4 377.6 417.7 378.0 419.0 378.2C420.3 378.5 421.6 378.8 422.9 379.0C424.2 379.2 425.5 379.4 426.8 379.6C428.1 379.7 429.4 379.9 430.8 380.0C432.1 380.1 433.4 380.1 434.7 380.2C436.0 380.2 437.3 380.2 438.6 380.1C439.9 380.1 441.2 380.0 442.6 379.9C443.9 379.8 445.2 379.7 446.5 379.6C447.9 379.4 449.2 379.3 450.5 379.1C451.8 378.9 453.2 378.7 454.5 378.5C455.8 378.3 457.2 378.0 458.5 377.8C459.8 377.6 461.2 377.3 462.5 377.1C463.8 376.9 465.2 376.6 466.5 376.4C467.8 376.2 469.2 375.9 470.5 375.7C471.8 375.5 473.2 375.3 474.5 375.1C475.8 374.9 477.2 374.7 478.5 374.5C479.9 374.4 481.2 374.2 482.5 374.1C483.9 374.0 485.2 373.9 486.5 373.8C487.9 373.8 489.2 373.7 490.5 373.8C491.9 373.8 493.2 373.8 494.5 373.9C495.9 374.0 497.2 374.2 498.5 374.4C499.9 374.6 501.2 374.8 502.5 375.0C503.9 375.2 505.2 375.5 506.5 375.6C507.8 375.8 509.2 376.0 510.5 376.1C511.8 376.2 513.2 376.3 514.5 376.3C515.8 376.3 517.2 376.2 518.5 376.2C519.8 376.1 521.1 376.0 522.5 375.9C523.8 375.7 525.1 375.6 526.5 375.4C527.8 375.3 529.1 375.1 530.4 374.9C531.8 374.8 533.1 374.6 534.4 374.4C535.8 374.2 537.1 374.0 538.4 373.8C539.7 373.6 541.1 373.4 542.4 373.2C543.7 373.0 545.0 372.8 546.4 372.6C547.7 372.4 549.0 372.1 550.4 371.9C551.7 371.7 553.0 371.5 554.3 371.3C555.7 371.1 557.0 370.9 558.3 370.7C559.6 370.5 561.0 370.3 562.3 370.1C563.6 369.9 565.0 369.7 566.3 369.5C567.6 369.3 568.9 369.1 570.3 369.0C571.6 368.8 572.9 368.6 574.2 368.5C575.6 368.3 576.9 368.2 578.2 368.0C579.6 367.9 580.9 367.8 582.2 367.7C583.5 367.5 584.9 367.4 586.2 367.3C587.5 367.2 588.8 367.1 590.2 367.0C591.5 366.9 592.8 366.8 594.2 366.7C595.5 366.6 596.8 366.5 598.1 366.3C599.5 366.2 600.8 366.1 602.1 365.9C603.4 365.8 604.8 365.6 606.1 365.4C607.4 365.2 608.7 365.0 610.1 364.8C611.4 364.5 612.7 364.3 614.1 364.0C615.4 363.7 616.7 363.3 618.0 362.9C619.4 362.6 620.7 362.2 622.0 361.8C623.3 361.5 624.6 361.1 626.0 360.8C627.3 360.5 628.6 360.2 629.9 360.0C631.3 359.8 632.6 359.6 633.9 359.5C635.2 359.4 636.6 359.4 637.9 359.3C639.2 359.2 640.5 359.2 641.8 359.2C643.2 359.1 644.5 359.1 645.8 359.0C647.1 358.9 648.4 358.8 649.8 358.7C651.1 358.5 652.4 358.4 653.7 358.2C655.0 358.0 656.3 357.8 657.7 357.6C659.0 357.4 660.3 357.1 661.6 356.8C662.9 356.5 664.2 356.2 665.5 355.9C666.9 355.6 668.2 355.2 669.4 354.8C670.7 354.4 672.0 354.0 673.3 353.5C674.5 353.1 675.8 352.6 677.0 352.0C678.2 351.5 679.5 350.9 680.7 350.3C681.8 349.7 683.0 349.0 684.2 348.3C685.3 347.6 686.4 346.8 687.5 346.1C688.7 345.3 689.7 344.5 690.8 343.7C691.9 342.9 692.9 342.0 694.0 341.2C695.0 340.3 696.1 339.4 697.1 338.6C698.1 337.7 699.1 336.8 700.1 335.9C701.1 335.0 702.1 334.1 703.1 333.2C704.0 332.3 705.0 331.4 706.0 330.5C706.9 329.6 707.9 328.7 708.8 327.7C709.8 326.8 710.7 325.9 711.7 325.0C712.6 324.1 713.6 323.2 714.5 322.2C715.5 321.3 716.4 320.4 717.4 319.4C718.3 318.5 719.3 317.6 720.3 316.7C721.2 315.7 722.2 314.8 723.2 313.8C724.2 312.9 725.1 312.0 726.1 311.0C727.1 310.1 728.1 309.1 729.0 308.2C730.0 307.2 731.0 306.2 731.9 305.3C732.9 304.3 733.8 303.4 734.8 302.4C735.7 301.4 736.7 300.5 737.6 299.5C738.5 298.5 739.4 297.6 740.3 296.6C741.3 295.6 742.2 294.6 743.1 293.7C744.0 292.7 744.9 291.7 745.8 290.7C746.7 289.7 747.6 288.8 748.5 287.8C749.4 286.8 750.3 285.8 751.2 284.8C752.1 283.8 753.0 282.8 753.9 281.9C754.8 280.9 755.7 279.9 756.6 278.9C757.5 277.9 758.4 276.9 759.3 275.9C760.2 274.9 761.1 274.0 762.0 273.0C762.9 272.0 763.8 271.0 764.7 270.0C765.6 269.1 766.6 268.1 767.5 267.1C768.4 266.2 769.4 265.2 770.4 264.3C771.3 263.4 772.3 262.5 773.3 261.6C774.3 260.7 775.4 259.9 776.4 259.1C777.5 258.2 778.5 257.4 779.7 256.7C780.8 255.9 781.9 255.2 783.0 254.5C784.2 253.9 785.4 253.2 786.6 252.6C787.8 252.0 789.1 251.5 790.3 251.0C791.6 250.5 792.9 250.0 794.2 249.7C795.5 249.3 796.8 248.9 798.1 248.6C799.5 248.3 800.8 248.1 802.1 247.9C803.5 247.8 804.8 247.6 806.1 247.6C807.5 247.5 808.8 247.5 810.2 247.6C811.5 247.7 812.8 247.8 814.1 248.1C815.4 248.3 816.7 248.6 818.0 248.9C819.3 249.3 820.5 249.7 821.8 250.2C823.0 250.7 824.2 251.3 825.4 252.0C826.6 252.6 827.8 253.3 828.9 254.0C830.1 254.7 831.2 255.5 832.3 256.2C833.4 257.0 834.5 257.7 835.6 258.5C836.7 259.3 837.8 260.1 838.8 260.9C839.9 261.7 840.9 262.5 841.9 263.3C843.0 264.2 844.0 265.0 845.0 265.9C846.0 266.8 847.0 267.7 848.0 268.6C849.0 269.5 850.0 270.4 851.0 271.4C852.0 272.3 853.0 273.2 853.9 274.1C854.9 275.1 855.9 276.0 856.9 276.9C857.8 277.8 858.8 278.8 859.8 279.7C860.8 280.6 861.7 281.6 862.7 282.5C863.7 283.4 864.6 284.3 865.6 285.3C866.6 286.2 867.5 287.1 868.5 288.0C869.5 289.0 870.5 289.9 871.4 290.8C872.4 291.7 873.4 292.6 874.4 293.5C875.4 294.4 876.3 295.4 877.3 296.2C878.3 297.1 879.3 298.0 880.3 298.9C881.3 299.8 882.3 300.7 883.3 301.6C884.3 302.4 885.4 303.3 886.4 304.1C887.4 305.0 888.4 305.8 889.5 306.7C890.5 307.5 891.6 308.3 892.6 309.2C893.7 310.0 894.7 310.8 895.8 311.7C896.8 312.5 897.9 313.3 898.9 314.1C900.0 315.0 901.0 315.8 902.1 316.6C903.1 317.5 904.1 318.3 905.2 319.2C906.2 320.0 907.2 320.9 908.2 321.8C909.2 322.7 910.2 323.6 911.2 324.5C912.1 325.4 913.1 326.3 914.0 327.3C915.0 328.2 915.9 329.2 916.8 330.2C917.7 331.2 918.6 332.2 919.5 333.2C920.4 334.2 921.3 335.2 922.2 336.2C923.1 337.2 924.0 338.3 924.9 339.3C925.7 340.3 926.6 341.4 927.5 342.4C928.4 343.4 929.2 344.5 930.1 345.5C931.0 346.5 931.9 347.5 932.8 348.5C933.7 349.6 934.6 350.6 935.5 351.5C936.5 352.5 937.4 353.5 938.3 354.5C939.3 355.4 940.3 356.4 941.2 357.3C942.2 358.2 943.2 359.1 944.3 359.9C945.3 360.7 946.3 361.5 947.4 362.1C948.5 362.6 949.6 363.1 950.7 363.3C951.8 363.5 953.0 363.5 954.2 363.3C955.3 363.1 956.6 362.5 957.8 361.9C959.0 361.3 960.3 360.4 961.6 359.5C962.8 358.7 964.1 357.7 965.4 356.8C966.6 356.0 967.9 355.0 969.2 354.3C970.4 353.6 971.7 353.0 972.9 352.5C974.1 352.1 975.3 351.8 976.4 351.8C977.5 351.8 978.6 351.9 979.6 352.4C980.6 352.9 981.6 353.7 982.4 354.6C983.3 355.6 984.1 356.9 984.8 358.1C985.6 359.3 986.2 360.6 986.8 361.9C987.4 363.1 987.9 364.4 988.4 365.7C988.9 366.9 989.4 368.2 989.8 369.4C990.3 370.7 990.7 372.0 991.1 373.2C991.5 374.5 991.9 375.7 992.3 377.0C992.7 378.3 993.1 379.5 993.5 380.8C994.0 382.0 994.4 383.3 994.8 384.6C995.2 385.8 995.7 387.1 996.1 388.4C996.5 389.6 997.0 390.9 997.4 392.2C997.8 393.4 998.3 394.7 998.7 396.0C999.2 397.3 999.6 398.5 1000.0 399.8C1000.5 401.1 1000.9 402.3 1001.3 403.6C1001.7 404.9 1002.2 406.2 1002.6 407.5C1003.0 408.7 1003.4 410.0 1003.8 411.3C1004.2 412.6 1004.5 413.9 1004.9 415.1C1005.3 416.4 1005.6 417.7 1005.9 419.0C1006.3 420.3 1006.6 421.6 1006.9 422.9C1007.3 424.1 1007.6 425.4 1008.0 426.7C1008.4 428.0 1008.8 429.3 1009.3 430.6C1009.8 431.9 1010.3 433.2 1010.9 434.5C1011.5 435.7 1012.1 436.9 1012.8 438.1C1013.5 439.3 1014.2 440.4 1015.0 441.5C1015.8 442.5 1016.6 443.5 1017.5 444.4C1018.4 445.3 1019.3 446.1 1020.3 446.9C1021.3 447.7 1022.3 448.4 1023.4 449.1C1024.4 449.8 1025.6 450.5 1026.8 451.2C1027.9 451.9 1029.1 452.6 1030.3 453.3C1031.5 454.0 1032.8 454.7 1034.0 455.4C1035.2 456.2 1036.4 456.9 1037.5 457.7C1038.7 458.5 1039.8 459.2 1040.8 460.1C1041.9 461.0 1042.9 461.9 1043.8 462.8C1044.7 463.8 1045.5 464.8 1046.3 465.8C1047.0 466.9 1047.7 468.0 1048.4 469.1C1049.0 470.2 1049.6 471.4 1050.2 472.6C1050.7 473.8 1051.2 475.0 1051.7 476.2C1052.1 477.5 1052.6 478.8 1053.0 480.0C1053.4 481.3 1053.7 482.6 1054.1 483.9C1054.4 485.3 1054.7 486.6 1055.0 487.9C1055.4 489.2 1055.7 490.6 1056.0 491.9C1056.3 493.2 1056.6 494.5 1056.9 495.9C1057.2 497.2 1057.5 498.5 1057.7 499.8C1058.0 501.1 1058.3 502.4 1058.6 503.8C1058.9 505.1 1059.2 506.4 1059.5 507.7C1059.8 509.0 1060.0 510.3 1060.3 511.6C1060.6 512.9 1060.9 514.2 1061.1 515.5C1061.4 516.8 1061.7 518.1 1062.0 519.4C1062.2 520.7 1062.5 522.0 1062.8 523.4C1063.0 524.7 1063.3 526.0 1063.5 527.3C1063.8 528.6 1064.1 529.9 1064.3 531.2C1064.6 532.5 1064.8 533.8 1065.1 535.1C1065.3 536.4 1065.6 537.8 1065.8 539.1C1066.1 540.4 1066.3 541.7 1066.6 543.0C1066.8 544.3 1067.1 545.6 1067.3 547.0C1067.6 548.3 1067.8 549.6 1068.1 550.9C1068.3 552.2 1068.6 553.6 1068.8 554.9C1069.1 556.2 1069.3 557.5 1069.6 558.8C1069.8 560.1 1070.1 561.5 1070.3 562.8C1070.6 564.1 1070.8 565.4 1071.1 566.7C1071.3 568.1 1071.6 569.4 1071.8 570.7C1072.1 572.0 1072.4 573.3 1072.6 574.7C1072.9 576.0 1073.1 577.3 1073.4 578.6C1073.7 579.9 1073.9 581.2 1074.2 582.6C1074.5 583.9 1074.8 585.2 1075.0 586.5C1075.3 587.8 1075.6 589.1 1075.9 590.4C1076.2 591.7 1076.5 593.1 1076.8 594.4C1077.1 595.7 1077.4 597.0 1077.7 598.3C1078.0 599.6 1078.3 600.9 1078.6 602.2C1078.9 603.5 1079.2 604.8 1079.5 606.1C1079.9 607.4 1080.2 608.7 1080.5 610.0C1080.8 611.3 1081.2 612.6 1081.5 613.9C1081.9 615.2 1082.2 616.4 1082.6 617.7C1082.9 619.0 1083.5 621.0 1083.7 621.6"/>
<path stroke="#ee6666" stroke-dasharray="10 5" d="M78.0 333.4C78.7 333.4 80.6 333.3 81.9 333.3C83.2 333.2 84.6 333.2 86.0 333.2C87.3 333.2 88.7 333.2 90.0 333.2C91.4 333.3 92.7 333.3 94.1 333.3C95.4 333.4 96.8 333.4 98.1 333.5C99.5 333.5 100.8 333.6 102.2 333.7C103.5 333.7 104.9 333.8 106.2 333.9C107.6 334.0 108.9 334.1 110.3 334.1C111.6 334.2 112.9 334.3 114.3 334.4C115.6 334.5 117.0 334.6 118.3 334.6C119.7 334.7 121.0 334.8 122.3 334.9C123.7 334.9 125.0 335.0 126.4 335.1C127.7 335.1 129.1 335.2 130.4 335.2C131.7 335.3 133.1 335.3 134.4 335.4C135.7 335.4 137.1 335.4 138.4 335.4C139.8 335.4 141.1 335.4 142.4 335.4C143.8 335.4 145.1 335.4 146.4 335.4C147.8 335.4 149.1 335.3 150.4 335.3C151.8 335.3 153.1 335.2 154.5 335.2C155.8 335.2 157.1 335.1 158.5 335.1C159.8 335.1 161.1 335.1 162.5 335.1C163.8 335.1 165.1 335.1 166.4 335.1C167.8 335.1 169.1 335.2 170.4 335.2C171.8 335.3 173.1 335.4 174.4 335.5C175.8 335.6 177.1 335.7 178.4 335.8C179.7 336.0 181.1 336.1 182.4 336.3C183.7 336.5 185.1 336.6 186.4 336.8C187.7 337.0 189.0 337.2 190.4 337.4C191.7 337.6 193.0 337.8 194.4 338.0C195.7 338.2 197.0 338.3 198.3 338.5C199.7 338.7 201.0 338.9 202.3 339.1C203.6 339.3 205.0 339.5 206.3 339.7C207.6 339.9 208.9 340.1 210.3 340.3C211.6 340.4 212.9 340.6 214.2 340.8C215.6 340.9 216.9 341.1 218.2 341.3C219.5 341.4 220.9 341.6 222.2 341.7C223.5 341.9 224.8 342.0 226.2 342.2C227.5 342.3 228.8 342.5 230.1 342.6C231.4 342.8 232.8 343.0 234.1 343.2C235.4 343.4 236.7 343.6 238.1 343.8C239.4 344.1 240.7 344.3 242.0 344.6C243.4 344.8 244.7 345.1 246.0 345.4C247.3 345.7 248.6 345.9 250.0 346.3C251.3 346.6 252.6 346.9 253.9 347.2C255.3 347.5 256.6 347.8 257.9 348.2C259.2 348.5 260.5 348.9 261.9 349.2C263.2 349.6 264.5 350.0 265.8 350.3C267.2 350.7 268.5 351.0 269.8 351.4C271.1 351.7 272.4 352.1 273.8 352.4C275.1 352.7 276.4 353.0 277.7 353.2C279.1 353.5 280.4 353.7 281.7 353.9C283.0 354.1 284.3 354.2 285.7 354.4C287.0 354.5 288.3 354.6 289.6 354.7C291.0 354.8 292.3 354.8 293.6 354.9C294.9 354.9 296.2 354.9 297.6 355.0C298.9 355.0 300.2 355.0 301.5 355.1C302.9 355.1 304.2 355.2 305.5 355.3C306.8 355.4 308.1 355.5 309.5 355.6C310.8 355.8 312.1 355.9 313.4 356.1C314.8 356.3 316.1 356.5 317.4 356.7C318.7 357.0 320.0 357.2 321.4 357.4C322.7 357.7 324.0 357.9 325.3 358.2C326.6 358.4 328.0 358.7 329.3 359.0C330.6 359.2 331.9 359.5 333.2 359.8C334.5 360.1 335.9 360.3 337.2 360.6C338.5 360.9 339.8 361.2 341.1 361.4C342.4 361.7 343.8 362.0 345.1 362.3C346.4 362.5 347.7 362.8 349.0 363.1C350.3 363.3 351.7 363.6 353.0 363.8C354.3 364.1 355.6 364.3 356.9 364.5C358.2 364.8 359.5 365.0 360.8 365.2C362.2 365.4 363.5 365.6 364.8 365.8C366.1 366.0 367.4 366.1 368.7 366.3C370.0 366.5 371.3 366.6 372.6 366.8C373.9 367.0 375.2 367.1 376.6 367.3C377.9 367.5 379.2 367.7 380.5 367.9C381.8 368.2 383.1 368.4 384.4 368.7C385.7 368.9 387.0 369.2 388.3 369.5C389.6 369.8 390.9 370.2 392.2 370.6C393.5 370.9 394.9 371.4 396.2 371.8C397.5 372.2 398.8 372.6 400.1 373.0C401.4 373.4 402.7 373.8 404.0 374.2C405.3 374.6 406.6 375.0 407.9 375.4C409.2 375.8 410.5 376.2 411.8 376.6C413.2 376.9 414.5 377.3 415.8 377.6C417.1 377.9 418.4 378.3 419.7 378.5C421.0 378.8 422.3 379.1 423.6 379.3C425.0 379.6 426.3 379.8 427.6 380.0C428.9 380.1 430.2 380.3 431.5 380.4C432.8 380.5 434.2 380.6 435.5 380.6C436.8 380.7 438.1 380.7 439.4 380.6C440.7 380.6 442.1 380.5 443.4 380.4C444.7 380.2 446.0 380.1 447.3 379.9C448.7 379.7 450.0 379.5 451.3 379.3C452.6 379.1 454.0 378.8 455.3 378.6C456.6 378.3 457.9 378.1 459.3 377.8C460.6 377.5 461.9 377.3 463.2 377.0C464.6 376.7 465.9 376.5 467.2 376.2C468.5 376.0 469.9 375.7 471.2 375.5C472.5 375.3 473.9 375.1 475.2 374.9C476.5 374.7 477.9 374.5 479.2 374.4C480.5 374.3 481.8 374.2 483.2 374.1C484.5 374.1 485.8 374.0 487.2 374.0C488.5 374.0 489.8 374.1 491.2 374.1C492.5 374.1 493.8 374.2 495.2 374.3C496.5 374.4 497.8 374.5 499.2 374.6C500.5 374.8 501.9 374.9 503.2 375.1C504.5 375.2 505.9 375.4 507.2 375.5C508.5 375.6 509.9 375.7 511.2 375.8C512.5 375.9 513.9 375.9 515.2 376.0C516.5 376.0 517.9 376.0 519.2 375.9C520.5 375.9 521.9 375.8 523.2 375.7C524.5 375.6 525.9 375.5 527.2 375.4C528.5 375.2 529.9 375.1 531.2 374.9C532.6 374.8 533.9 374.6 535.2 374.4C536.6 374.2 537.9 374.0 539.2 373.8C540.6 373.6 541.9 373.4 543.2 373.1C544.6 372.9 545.9 372.7 547.2 372.5C548.6 372.3 549.9 372.0 551.2 371.8C552.5 371.6 553.9 371.4 555.2 371.2C556.5 371.0 557.9 370.7 559.2 370.6C560.5 370.4 561.9 370.2 563.2 370.0C564.5 369.9 565.8 369.7 567.2 369.6C568.5 369.4 569.8 369.3 571.1 369.2C572.5 369.1 573.8 369.0 575.1 369.0C576.4 368.9 577.8 368.9 579.1 368.9C580.4 368.9 581.7 368.9 583.1 369.0C584.4 369.0 585.7 369.1 587.0 369.1C588.3 369.1 589.7 369.2 591.0 369.2C592.3 369.2 593.6 369.2 594.9 369.2C596.3 369.2 597.6 369.2 598.9 369.1C600.2 369.1 601.5 369.0 602.8 368.9C604.2 368.7 605.5 368.6 606.8 368.4C608.1 368.3 609.4 368.1 610.7 367.8C612.1 367.6 613.4 367.3 614.7 367.0C616.0 366.7 617.3 366.3 618.7 365.9C620.0 365.5 621.3 365.1 622.6 364.7C624.0 364.3 625.3 363.9 626.6 363.5C628.0 363.1 629.3 362.8 630.6 362.4C632.0 362.1 633.3 361.8 634.6 361.5C636.0 361.2 637.3 361.0 638.6 360.7C640.0 360.5 641.3 360.3 642.6 360.0C644.0 359.8 645.3 359.6 646.6 359.4C648.0 359.2 649.3 359.0 650.6 358.7C651.9 358.5 653.2 358.3 654.5 358.0C655.8 357.8 657.1 357.5 658.4 357.2C659.7 356.9 660.9 356.6 662.2 356.3C663.5 355.9 664.7 355.6 666.0 355.2C667.2 354.8 668.4 354.3 669.7 353.8C670.9 353.3 672.1 352.8 673.3 352.3C674.5 351.7 675.6 351.1 676.8 350.5C678.0 349.8 679.1 349.2 680.3 348.5C681.4 347.8 682.5 347.1 683.6 346.3C684.7 345.6 685.8 344.8 686.9 344.0C688.0 343.2 689.1 342.3 690.1 341.5C691.2 340.6 692.2 339.8 693.2 338.9C694.3 338.0 695.3 337.1 696.3 336.2C697.3 335.2 698.3 334.3 699.2 333.4C700.2 332.4 701.2 331.4 702.1 330.5C703.0 329.5 704.0 328.5 704.9 327.5C705.8 326.5 706.7 325.5 707.6 324.5C708.5 323.5 709.4 322.5 710.3 321.5C711.1 320.5 712.0 319.4 712.9 318.4C713.7 317.3 714.6 316.3 715.4 315.2C716.2 314.2 717.1 313.1 717.9 312.1C718.7 311.0 719.5 309.9 720.3 308.9C721.1 307.8 721.9 306.7 722.7 305.6C723.5 304.5 724.3 303.5 725.0 302.4C725.8 301.3 726.6 300.2 727.4 299.1C728.1 298.0 728.9 296.9 729.7 295.8C730.4 294.7 731.2 293.6 731.9 292.5C732.7 291.4 733.4 290.3 734.2 289.2C734.9 288.1 735.7 287.0 736.4 285.9C737.2 284.8 737.9 283.7 738.7 282.6C739.4 281.5 740.2 280.4 740.9 279.3C741.7 278.2 742.4 277.1 743.2 275.9C743.9 274.8 744.6 273.7 745.4 272.6C746.1 271.5 746.9 270.4 747.6 269.3C748.4 268.2 749.1 267.1 749.9 266.0C750.7 264.9 751.4 263.8 752.2 262.7C752.9 261.6 753.7 260.5 754.5 259.4C755.3 258.4 756.0 257.3 756.8 256.2C757.6 255.1 758.4 254.0 759.2 252.9C760.0 251.8 760.8 250.7 761.6 249.6C762.4 248.6 763.2 247.5 764.0 246.4C764.8 245.3 765.6 244.2 766.5 243.2C767.3 242.1 768.1 241.0 769.0 240.0C769.8 238.9 770.7 237.8 771.5 236.8C772.4 235.7 773.3 234.7 774.2 233.6C775.1 232.6 776.0 231.6 776.9 230.6C777.8 229.6 778.7 228.6 779.7 227.6C780.6 226.7 781.6 225.7 782.6 224.8C783.5 223.9 784.5 223.0 785.6 222.1C786.6 221.3 787.6 220.5 788.7 219.7C789.8 218.9 790.9 218.1 792.0 217.4C793.1 216.7 794.2 216.1 795.4 215.4C796.6 214.8 797.8 214.2 799.0 213.7C800.2 213.2 801.5 212.7 802.7 212.3C804.0 211.9 805.3 211.6 806.6 211.3C807.9 211.0 809.3 210.8 810.6 210.7C811.9 210.6 813.3 210.5 814.6 210.6C815.9 210.7 817.2 210.8 818.5 211.1C819.8 211.3 821.1 211.7 822.4 212.1C823.6 212.5 824.9 213.0 826.1 213.5C827.3 214.0 828.4 214.6 829.6 215.3C830.7 215.9 831.8 216.6 832.9 217.3C834.1 218.1 835.1 218.9 836.2 219.7C837.3 220.5 838.3 221.4 839.3 222.3C840.3 223.2 841.3 224.1 842.3 225.0C843.3 226.0 844.3 226.9 845.3 227.9C846.2 228.9 847.2 229.9 848.1 230.9C849.1 231.9 850.0 232.9 850.9 234.0C851.8 235.0 852.8 236.0 853.7 237.0C854.6 238.0 855.5 239.0 856.4 240.0C857.3 241.1 858.2 242.1 859.1 243.1C860.0 244.1 860.8 245.1 861.7 246.1C862.6 247.1 863.5 248.1 864.4 249.2C865.2 250.2 866.1 251.2 867.0 252.2C867.8 253.2 868.7 254.2 869.6 255.2C870.4 256.2 871.3 257.2 872.1 258.2C873.0 259.2 873.9 260.2 874.7 261.3C875.6 262.3 876.4 263.3 877.3 264.3C878.2 265.3 879.0 266.3 879.9 267.3C880.8 268.3 881.6 269.3 882.5 270.3C883.4 271.3 884.2 272.3 885.1 273.3C886.0 274.4 886.8 275.4 887.7 276.4C888.6 277.4 889.5 278.4 890.3 279.4C891.2 280.4 892.1 281.4 893.0 282.4C893.9 283.4 894.7 284.5 895.6 285.5C896.5 286.5 897.4 287.5 898.2 288.5C899.1 289.6 900.0 290.6 900.8 291.6C901.7 292.7 902.5 293.7 903.4 294.7C904.2 295.8 905.1 296.8 905.9 297.9C906.8 298.9 907.6 300.0 908.4 301.0C909.3 302.1 910.1 303.1 910.9 304.2C911.7 305.3 912.5 306.4 913.3 307.4C914.1 308.5 914.9 309.6 915.7 310.7C916.5 311.8 917.3 312.9 918.0 314.0C918.8 315.1 919.5 316.2 920.3 317.3C921.1 318.4 921.8 319.5 922.5 320.6C923.3 321.8 924.0 322.9 924.7 324.0C925.5 325.1 926.2 326.3 926.9 327.4C927.6 328.5 928.4 329.7 929.1 330.8C929.8 331.9 930.5 333.1 931.2 334.2C931.9 335.4 932.6 336.5 933.3 337.7C934.0 338.8 934.7 340.0 935.4 341.1C936.1 342.3 936.8 343.4 937.5 344.6C938.2 345.7 938.9 346.9 939.5 348.0C940.2 349.2 940.9 350.3 941.6 351.5C942.3 352.6 943.0 353.8 943.7 354.9C944.4 356.1 945.1 357.2 945.8 358.3C946.5 359.5 947.2 360.6 947.9 361.8C948.6 362.9 949.3 364.1 950.0 365.2C950.7 366.3 951.4 367.5 952.1 368.6C952.8 369.7 953.5 370.9 954.3 372.0C955.0 373.1 955.7 374.2 956.4 375.4C957.2 376.5 957.9 377.6 958.6 378.7C959.4 379.8 960.1 380.9 960.9 382.0C961.6 383.1 962.4 384.2 963.1 385.3C963.9 386.4 964.7 387.5 965.4 388.6C966.2 389.7 967.0 390.8 967.8 391.9C968.5 393.0 969.3 394.0 970.1 395.1C970.9 396.2 971.7 397.3 972.5 398.3C973.3 399.4 974.1 400.5 974.9 401.6C975.7 402.6 976.5 403.7 977.3 404.8C978.1 405.8 979.0 406.9 979.8 407.9C980.6 409.0 981.4 410.1 982.3 411.1C983.1 412.2 984.0 413.2 984.8 414.3C985.6 415.3 986.5 416.4 987.3 417.4C988.2 418.5 989.1 419.5 989.9 420.5C990.8 421.6 991.7 422.6 992.5 423.7C993.4 424.7 994.3 425.7 995.2 426.8C996.0 427.8 996.9 428.9 997.8 429.9C998.7 430.9 999.6 432.0 1000.5 433.0C1001.4 434.0 1002.3 435.0 1003.3 436.0C1004.2 437.0 1005.1 438.0 1006.1 438.9C1007.1 439.8 1008.0 440.7 1009.1 441.5C1010.1 442.4 1011.1 443.2 1012.2 443.9C1013.2 444.6 1014.3 445.3 1015.5 445.9C1016.6 446.5 1017.8 447.0 1019.0 447.4C1020.2 447.9 1021.5 448.2 1022.8 448.6C1024.0 448.9 1025.3 449.2 1026.6 449.6C1027.9 449.9 1029.2 450.2 1030.5 450.6C1031.8 451.0 1033.1 451.4 1034.3 451.9C1035.6 452.4 1036.8 452.9 1037.9 453.6C1039.1 454.2 1040.2 454.9 1041.3 455.7C1042.4 456.5 1043.4 457.3 1044.4 458.2C1045.4 459.1 1046.4 460.1 1047.3 461.1C1048.3 462.0 1049.2 463.1 1050.0 464.1C1050.9 465.2 1051.7 466.2 1052.5 467.3C1053.3 468.4 1054.1 469.5 1054.8 470.7C1055.6 471.8 1056.3 472.9 1057.0 474.1C1057.7 475.3 1058.3 476.4 1058.9 477.6C1059.6 478.8 1060.2 480.0 1060.8 481.2C1061.4 482.4 1062.0 483.6 1062.5 484.8C1063.1 486.1 1063.6 487.3 1064.1 488.5C1064.6 489.8 1065.1 491.0 1065.6 492.3C1066.1 493.5 1066.6 494.8 1067.1 496.0C1067.5 497.3 1068.0 498.5 1068.4 499.8C1068.8 501.1 1069.3 502.3 1069.7 503.6C1070.1 504.9 1070.5 506.2 1070.9 507.4C1071.3 508.7 1071.7 510.0 1072.1 511.3C1072.5 512.6 1072.9 513.8 1073.3 515.1C1073.6 516.4 1074.0 517.7 1074.3 519.0C1074.7 520.3 1075.0 521.6 1075.4 522.9C1075.7 524.1 1076.1 525.4 1076.4 526.7C1076.7 528.0 1077.1 529.3 1077.4 530.6C1077.7 531.9 1078.1 533.2 1078.4 534.5C1078.7 535.8 1079.0 537.1 1079.3 538.4C1079.6 539.7 1080.0 541.0 1080.3 542.3C1080.6 543.6 1080.9 545.0 1081.2 546.3C1081.5 547.6 1081.8 548.9 1082.1 550.2C1082.4 551.5 1082.8 552.8 1083.1 554.1C1083.4 555.4 1083.8 557.3 1084.0 558.0"/>
</g>
<g stroke="#5470c6" stroke-width="2.5"><path d="M99.30 31.1h31.25"/><circle cx="114.90" cy="31.1" r="7" fill="#fff"/></g>
<g stroke="#91cc75" stroke-width="2.5"><path d="M205.30 31.1h31.25" stroke-dasharray="10 5"/><circle cx="220.90" cy="31.1" r="7" fill="#fff"/></g>
<g stroke="#cccccc" stroke-width="2.5"><path d="M396.30 31.1h31.25"/><circle cx="411.90" cy="31.1" r="7" fill="#fff"/></g>
<g stroke="#ee6666" stroke-width="2.5"><path d="M739.10 31.1h31.25" stroke-dasharray="10 5"/><circle cx="754.70" cy="31.1" r="7" fill="#fff"/></g>
<g class="lg" font-size="15">
<text y="35" fill="#333"><tspan x="136.60" textLength="56.00" lengthAdjust="spacingAndGlyphs">SPL(dB)</tspan></text>
<text y="35" fill="#333"><tspan x="242.60" textLength="92.70" lengthAdjust="spacingAndGlyphs">Woodenears</tspan> <tspan x="339.10" textLength="46.20" lengthAdjust="spacingAndGlyphs">Target</tspan></text>
<text y="35" fill="#ccc"><tspan x="433.50" textLength="32.50" lengthAdjust="spacingAndGlyphs">B&amp;K</tspan> <tspan x="469.20" textLength="36.50" lengthAdjust="spacingAndGlyphs">4128</tspan> <tspan x="510.00" textLength="32.20" lengthAdjust="spacingAndGlyphs">Turn</tspan> <tspan x="546.40" textLength="15.80" lengthAdjust="spacingAndGlyphs">to</tspan> <tspan x="567.70" textLength="57.00" lengthAdjust="spacingAndGlyphs">Harman</tspan> <tspan x="630.50" textLength="42.60" lengthAdjust="spacingAndGlyphs">in-ear</tspan> <tspan x="678.40" textLength="51.90" lengthAdjust="spacingAndGlyphs">2019v2</tspan></text>
<text y="35" fill="#333"><tspan x="777.10" textLength="32.50" lengthAdjust="spacingAndGlyphs">B&amp;K</tspan> <tspan x="812.80" textLength="36.50" lengthAdjust="spacingAndGlyphs">4128</tspan> <tspan x="853.60" textLength="32.20" lengthAdjust="spacingAndGlyphs">Turn</tspan> <tspan x="890.00" textLength="15.80" lengthAdjust="spacingAndGlyphs">to</tspan> <tspan x="911.30" textLength="57.00" lengthAdjust="spacingAndGlyphs">Harman</tspan> <tspan x="973.20" textLength="60.70" lengthAdjust="spacingAndGlyphs">over-ear</tspan> <tspan x="1038.80" textLength="35.30" lengthAdjust="spacingAndGlyphs">2013</tspan></text>
</g>
</svg>
<div class="bl"></div>
<div class="bb"></div>
</div>
</body>
</html>
